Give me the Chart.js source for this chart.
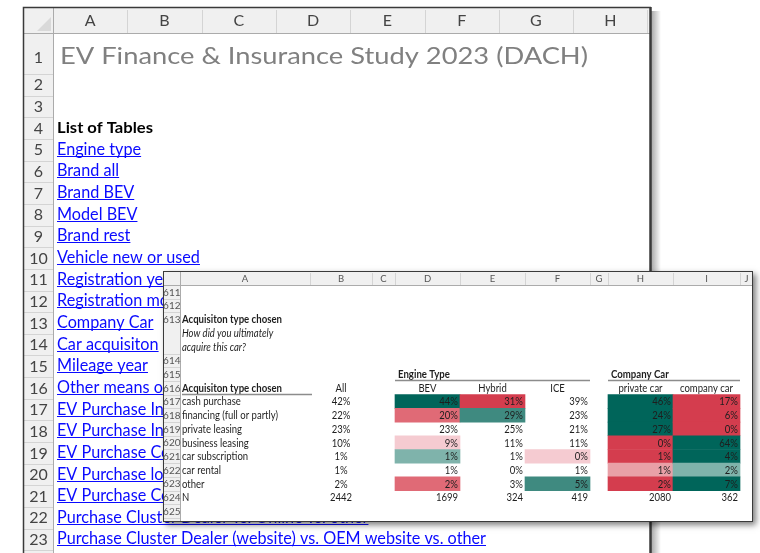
<!DOCTYPE html>
<html>
<head>
<meta charset="utf-8">
<script src="https://cdn.jsdelivr.net/npm/chart.js@4.4.0/dist/chart.umd.min.js"></script>
<style>
  body { margin: 0; background: #fff; width: 760px; height: 553px; overflow: hidden; position: relative; }
  #sheet { position: absolute; left: 0; top: 0; }
  #table { position: absolute; left: 163px; top: 271px; box-shadow: 3px 3px 6px rgba(0, 0, 0, 0.5); }
</style>
</head>
<body>
<canvas id="sheet" width="760" height="553"></canvas>
<canvas id="table" width="590" height="251"></canvas>
<script>
// --- data ---
const sheetTitle = 'EV Finance & Insurance Study 2023 (DACH)';
const listHeading = 'List of Tables';
const tableNames = [
  'Engine type', 'Brand all', 'Brand BEV', 'Model BEV', 'Brand rest', 'Vehicle new or used',
  'Registration year', 'Registration month', 'Company Car', 'Car acquisiton', 'Mileage year',
  'Other means of transport', 'EV Purchase Influencers', 'EV Purchase Information sources',
  'EV Purchase Considerations', 'EV Purchase location', 'EV Purchase Complexity',
  'Purchase Cluster Dealer vs. Online vs. other',
  'Purchase Cluster Dealer (website) vs. OEM website vs. other'
];
const sheetCols = ['A', 'B', 'C', 'D', 'E', 'F', 'G', 'H'];

const questionTitle = 'Acquisiton type chosen';
const questionText = ['How did you ultimately', 'acquire this car?'];
const acqTypes = ['cash purchase', 'financing (full or partly)', 'private leasing', 'business leasing',
  'car subscription', 'car rental', 'other'];
const allShare = [42, 22, 23, 10, 1, 1, 2];
const groupNames = ['Engine Type', 'Company Car'];
const segNames = ['BEV', 'Hybrid', 'ICE', 'private car', 'company car'];
const bevShare = [44, 20, 23, 9, 1, 1, 2];
const hybridShare = [31, 29, 25, 11, 1, 0, 3];
const iceShare = [39, 23, 21, 11, 0, 1, 5];
const privateShare = [46, 24, 27, 0, 1, 1, 2];
const companyShare = [17, 6, 0, 64, 4, 2, 7];
// shading level read from the sheet: +4 far above total ... -4 far below
const bevSig = [4, -3, 0, -1, 2, 0, -3];
const hybridSig = [-4, 3, 0, 0, 0, 0, 0];
const iceSig = [0, 0, 0, 0, -1, 0, 3];
const privateSig = [4, 4, 4, -4, -4, -2, -4];
const companySig = [-4, -4, -4, 4, 4, 2, 4];
const baseN = [2442, 1699, 324, 419, 2080, 362];

// --- layout of the small sheet ---
const tblCols = ['A', 'B', 'C', 'D', 'E', 'F', 'G', 'H', 'I', 'J'];
const tblColW = [130, 62, 23, 65, 65, 65, 18, 65, 67, 13];
const tblRows = ['611', '612', '613', '613b', '613c', '614', '615', '616',
  '617', '618', '619', '620', '621', '622', '623', '624', '625'];
const segCols = ['D', 'E', 'F', 'H', 'I'];

const edges = [0];
tblColW.forEach(w => edges.push(edges[edges.length - 1] + w));
const ci = c => tblCols.indexOf(c);

const shade = s => {
  if (!s) return 'rgba(0,0,0,0)';
  return s > 0 ? ['#bfd9d5', '#7fb3ab', '#3f8a80', '#00655a'][s - 1]
               : ['#f5cbd1', '#e9a0a7', '#e06a76', '#d43d4e'][-s - 1];
};

const segShares = [bevShare, hybridShare, iceShare, privateShare, companyShare];
const segSigs = [bevSig, hybridSig, iceSig, privateSig, companySig];
const cells = [];
segShares.forEach((vals, s) => {
  const c = ci(segCols[s]);
  vals.forEach((v, i) => {
    cells.push({ x: [edges[c], edges[c + 1]], y: String(617 + i), v: v, s: segSigs[s][i] });
  });
});

// draw text squeezed or stretched horizontally so Lato takes the width Calibri would
function fitText(ctx, text, x, y, k) {
  const w = ctx.measureText(text).width;
  ctx.save();
  ctx.translate(x, y);
  ctx.scale(k, 1);
  ctx.fillText(text, 0, 0);
  ctx.restore();
  return w * k;
}
function ratio(ctx, font, text, target) {
  ctx.font = font;
  return target / ctx.measureText(text).width;
}

// --- main worksheet ---
const sheetPlugin = {
  id: 'sheet',
  beforeDraw(chart) {
    const ctx = chart.ctx;
    const L = 23, T = 7, R = 651, colTop = 33, rowRight = 53, colW = 74.3;
    const rowY = r => r === 1 ? 57 : 74 + (r - 2 + 0.5) * 21.65;
    ctx.save();
    ctx.fillStyle = '#fff';
    ctx.fillRect(0, 0, 760, 553);

    // window shadow on the right
    const g = ctx.createLinearGradient(R, 0, R + 10, 0);
    g.addColorStop(0, 'rgba(0,0,0,0.35)');
    g.addColorStop(1, 'rgba(0,0,0,0)');
    ctx.fillStyle = g;
    ctx.fillRect(R, T + 4, 10, 553);

    // header bands
    ctx.fillStyle = '#f0f0f0';
    ctx.fillRect(L, T, R - L, colTop - T);
    ctx.fillRect(L, colTop, rowRight - L, 553 - colTop);
    ctx.fillStyle = '#d9d9d9';
    ctx.beginPath();
    ctx.moveTo(51, 17); ctx.lineTo(51, 31); ctx.lineTo(37, 31); ctx.closePath();
    ctx.fill();

    ctx.strokeStyle = '#d4d4d4';
    ctx.lineWidth = 1;
    ctx.beginPath();
    for (let i = 0; i <= sheetCols.length; i++) {
      const x = Math.round(rowRight + i * colW) + 0.5;
      ctx.moveTo(x, T + 3); ctx.lineTo(x, colTop);
    }
    for (let r = 1; r <= 24; r++) {
      const y = Math.round(r === 1 ? 74 : 74 + (r - 1) * 21.65) + 0.5;
      ctx.moveTo(L, y); ctx.lineTo(rowRight, y);
    }
    ctx.stroke();
    ctx.strokeStyle = '#ababab';
    ctx.beginPath();
    ctx.moveTo(L, colTop + 0.5); ctx.lineTo(R, colTop + 0.5);
    ctx.moveTo(rowRight + 0.5, T); ctx.lineTo(rowRight + 0.5, 553);
    ctx.stroke();

    // column letters and row numbers
    ctx.fillStyle = '#444';
    ctx.font = '16px Lato';
    ctx.textAlign = 'center';
    ctx.textBaseline = 'middle';
    sheetCols.forEach((c, i) => ctx.fillText(c, rowRight + (i + 0.5) * colW, 21));
    for (let r = 1; r <= 23; r++) ctx.fillText(String(r), 38.5, rowY(r) + 0.5);

    // frame
    ctx.strokeStyle = '#3a3a3a';
    ctx.lineWidth = 1.5;
    ctx.beginPath();
    ctx.moveTo(L + 0.5, 553); ctx.lineTo(L + 0.5, T + 0.5); ctx.lineTo(R, T + 0.5);
    ctx.stroke();
    ctx.lineWidth = 2.5;
    ctx.beginPath();
    ctx.moveTo(R - 0.5, T); ctx.lineTo(R - 0.5, 553);
    ctx.stroke();

    // title
    ctx.textAlign = 'left';
    ctx.textBaseline = 'alphabetic';
    ctx.fillStyle = '#808080';
    const kt = ratio(ctx, '24px Lato', sheetTitle, 528);
    fitText(ctx, sheetTitle, 60, 64, kt);

    // list of tables
    ctx.fillStyle = '#000';
    const kh = ratio(ctx, 'bold 16px Lato', listHeading, 96);
    fitText(ctx, listHeading, 57, rowY(4) + 5, kh);

    const kl = ratio(ctx, '16.5px Lato', tableNames[tableNames.length - 1], 429);
    ctx.fillStyle = '#0a0aff';
    ctx.strokeStyle = '#0a0aff';
    ctx.lineWidth = 1;
    tableNames.forEach((name, i) => {
      const y = rowY(5 + i) + 5;
      const w = fitText(ctx, name, 57, y, kl);
      ctx.beginPath();
      ctx.moveTo(57, Math.round(y) + 1.5);
      ctx.lineTo(57 + w, Math.round(y) + 1.5);
      ctx.stroke();
    });
    ctx.restore();
  }
};

new Chart(document.getElementById('sheet'), {
  type: 'scatter',
  data: { datasets: [] },
  options: {
    responsive: false,
    animation: false,
    plugins: { legend: { display: false }, tooltip: { enabled: false } },
    scales: { x: { display: false }, y: { display: false } }
  },
  plugins: [sheetPlugin]
});

// --- the results table window ---
const tablePlugin = {
  id: 'tablePlugin',
  beforeDraw(chart) {
    const ctx = chart.ctx;
    const xs = chart.scales.x, ys = chart.scales.y;
    const W = chart.width, H = chart.height;
    const top = chart.chartArea.top, left = chart.chartArea.left;
    ctx.save();
    ctx.fillStyle = '#fff';
    ctx.fillRect(0, 0, W, H);
    ctx.fillStyle = '#f0f0f0';
    ctx.fillRect(0, 0, W, top);
    ctx.fillRect(0, top, left, H - top);

    ctx.strokeStyle = '#d4d4d4';
    ctx.lineWidth = 1;
    ctx.beginPath();
    edges.forEach(e => {
      const x = Math.round(xs.getPixelForValue(e)) + 0.5;
      ctx.moveTo(x, 2); ctx.lineTo(x, top);
    });
    const band = ys.getPixelForValue(1) - ys.getPixelForValue(0);
    tblRows.forEach((r, i) => {
      if (tblRows[i + 1] && tblRows[i + 1].length > 3) return;
      const y = Math.round(ys.getPixelForValue(i) + band / 2) + 0.5;
      ctx.moveTo(0, y); ctx.lineTo(left, y);
    });
    ctx.stroke();
    ctx.strokeStyle = '#ababab';
    ctx.beginPath();
    ctx.moveTo(0, top + 0.5); ctx.lineTo(W, top + 0.5);
    ctx.moveTo(left + 0.5, 0); ctx.lineTo(left + 0.5, H);
    ctx.stroke();

    ctx.fillStyle = '#555';
    ctx.font = '9.5px Lato';
    ctx.textAlign = 'center';
    ctx.textBaseline = 'middle';
    tblCols.forEach((c, i) => ctx.fillText(c, xs.getPixelForValue((edges[i] + edges[i + 1]) / 2), top / 2 + 1));
    ctx.font = '10px Lato';
    ctx.textAlign = 'right';
    tblRows.forEach((r, i) => {
      if (r.length > 3) return;
      ctx.fillText(r, left + 0.5, ys.getPixelForValue(i) + 0.5);
    });
    ctx.restore();
  },
  afterDatasetsDraw(chart) {
    const ctx = chart.ctx;
    const xs = chart.scales.x, ys = chart.scales.y;
    const band = ys.getPixelForValue(1) - ys.getPixelForValue(0);
    const rowY = r => ys.getPixelForValue(tblRows.indexOf(r)) + 0.5;
    const colL = c => xs.getPixelForValue(edges[ci(c)]);
    const colR = c => xs.getPixelForValue(edges[ci(c) + 1]);
    const colC = c => (colL(c) + colR(c)) / 2;
    const k = ratio(ctx, '10.5px Lato', acqTypes[1], 96);
    const kb = ratio(ctx, 'bold 10.5px Lato', questionTitle, 100);
    const ax = colL('A') + 2;

    ctx.save();
    ctx.textBaseline = 'middle';
    ctx.fillStyle = '#1e1e1e';
    ctx.textAlign = 'left';

    ctx.font = 'bold 10.5px Lato';
    fitText(ctx, questionTitle, ax, rowY('613'), kb);
    ctx.font = 'italic 10.5px Lato';
    fitText(ctx, questionText[0], ax, rowY('613b'), k);
    fitText(ctx, questionText[1], ax, rowY('613c'), k);

    // group headers with rule
    ctx.font = 'bold 10.5px Lato';
    fitText(ctx, groupNames[0], colL('D') + 3, rowY('615'), kb);
    fitText(ctx, groupNames[1], colL('H') + 3, rowY('615'), kb);
    fitText(ctx, questionTitle, ax, rowY('616'), kb);
    ctx.strokeStyle = '#8c8c8c';
    ctx.lineWidth = 1.5;
    const ly = Math.round(rowY('615') + band / 2) - 0.5;
    const hy = Math.round(rowY('616') + band / 2) - 0.5;
    ctx.beginPath();
    ctx.moveTo(colL('D'), ly); ctx.lineTo(colR('F'), ly);
    ctx.moveTo(colL('H'), ly); ctx.lineTo(colR('I'), ly);
    ctx.moveTo(ax, hy); ctx.lineTo(colR('A') + 2, hy);
    ctx.stroke();

    ctx.font = '10.5px Lato';
    ctx.textAlign = 'center';
    fitText(ctx, 'All', colC('B'), rowY('616'), k);
    segNames.forEach((n, s) => fitText(ctx, n, colC(segCols[s]), rowY('616'), k));

    acqTypes.forEach((t, i) => {
      const y = rowY(String(617 + i));
      ctx.textAlign = 'left';
      fitText(ctx, t, ax, y, k);
      ctx.textAlign = 'center';
      fitText(ctx, allShare[i] + '%', colC('B'), y, k);
    });

    const meta = chart.getDatasetMeta(0);
    ctx.textAlign = 'right';
    meta.data.forEach((el, j) => {
      const d = cells[j];
      fitText(ctx, d.v + '%', Math.max(el.x, el.base) - 2, el.y + 0.5, k);
    });

    const ny = rowY('624');
    ctx.textAlign = 'left';
    fitText(ctx, 'N', ax, ny, k);
    ctx.textAlign = 'center';
    fitText(ctx, String(baseN[0]), colC('B'), ny, k);
    ctx.textAlign = 'right';
    segCols.forEach((c, s) => fitText(ctx, String(baseN[s + 1]), colR(c) - 2, ny, k));

    // window border
    ctx.strokeStyle = '#3a3a3a';
    ctx.lineWidth = 1;
    ctx.strokeRect(0.5, 0.5, chart.width - 1, chart.height - 1);
    ctx.restore();
  }
};

new Chart(document.getElementById('table'), {
  type: 'bar',
  data: {
    labels: tblRows,
    datasets: [{
      data: cells,
      backgroundColor: ctx => shade(ctx.raw ? ctx.raw.s : 0),
      borderWidth: 0,
      barPercentage: 1,
      categoryPercentage: 1
    }]
  },
  options: {
    indexAxis: 'y',
    responsive: false,
    animation: false,
    layout: { padding: { left: 17, top: 14, right: 0, bottom: 4 } },
    plugins: { legend: { display: false }, tooltip: { enabled: false } },
    scales: {
      x: { type: 'linear', min: 0, max: edges[edges.length - 1], display: false },
      y: { type: 'category', display: false }
    }
  },
  plugins: [tablePlugin]
});
</script>
</body>
</html>
